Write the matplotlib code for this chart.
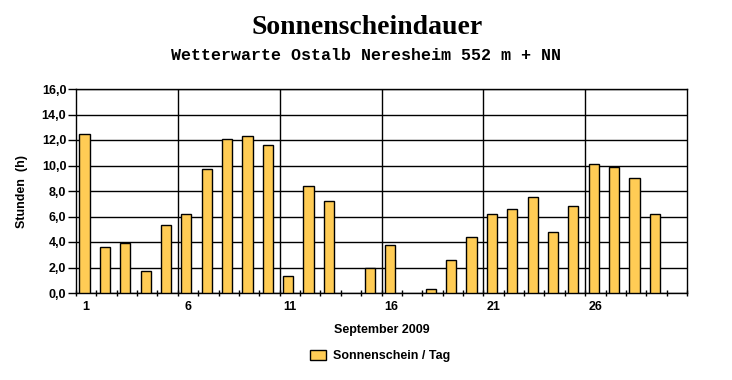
import numpy as np
import matplotlib
matplotlib.use("Agg")
import matplotlib.pyplot as plt
from matplotlib.patches import Patch

days = list(range(1, 31))
sunshine = [12.5, 3.6, 3.9, 1.7, 5.3, 6.2, 9.7, 12.1, 12.3, 11.6,
            1.3, 8.4, 7.2, np.nan, 2.0, 3.8, np.nan, 0.3, 2.6, 4.4,
            6.2, 6.6, 7.5, 4.8, 6.8, 10.1, 9.9, 9.0, 6.2, np.nan]
xtick_days = [1, 6, 11, 16, 21, 26]
yticks = [0, 2, 4, 6, 8, 10, 12, 14, 16]
title = "Sonnenscheindauer"
subtitle = "Wetterwarte Ostalb Neresheim 552 m + NN"
xlabel = "September 2009"
ylabel = "Stunden  (h)"
legend_label = "Sonnenschein / Tag"

sans = "Liberation Sans"
fig = plt.figure(figsize=(7.32, 3.80), dpi=100)
ax = fig.add_axes([76/732, 87/380, 611/732, 204/380])

x = np.array(days, dtype=float) - 0.08
ax.bar(x, sunshine, width=0.5, color="#FFCC55", edgecolor="black", linewidth=1.0, zorder=3)

ax.set_xlim(0.5, 30.5)
ax.set_ylim(0, 16)
ax.set_yticks(yticks)
ax.set_yticklabels([f"{v:.1f}".replace(".", ",") for v in yticks],
                   fontfamily=sans, fontweight="bold", fontsize=9)
ax.set_xticks(xtick_days)
ax.set_xticklabels([str(d) for d in xtick_days], fontfamily=sans, fontweight="bold", fontsize=9)
ax.set_xticks(np.arange(0.5, 31, 1), minor=True)
ax.tick_params(axis="x", which="major", length=0, pad=6)
ax.tick_params(axis="x", which="minor", length=4, direction="inout", width=1, color="black")
ax.tick_params(axis="y", which="major", length=6, direction="out", width=1, pad=1)

ax.grid(axis="y", color="black", linewidth=1.0, zorder=1)
for b in [5.5, 10.5, 15.5, 20.5, 25.5]:
    ax.axvline(b, color="black", linewidth=1.0, zorder=1)
for s in ax.spines.values():
    s.set_color("black")
    s.set_linewidth(1.0)

ax.set_xlabel(xlabel, fontfamily=sans, fontweight="bold", fontsize=9, labelpad=8)
ax.set_ylabel(ylabel, fontfamily=sans, fontweight="bold", fontsize=9, labelpad=10)

fig.text(367/732, 1 - 28/380, title, ha="center", va="center",
         fontfamily="Liberation Serif", fontweight="bold", fontsize=20)
fig.text(366/732, 1 - 55/380, subtitle, ha="center", va="center",
         fontfamily="Liberation Mono", fontweight="bold", fontsize=12)

handle = Patch(facecolor="#FFCC55", edgecolor="black", linewidth=1.0)
fig.legend([handle], [legend_label], loc="center", bbox_to_anchor=(380/732, 1 - 356/380),
           frameon=False, prop={"family": sans, "weight": "bold", "size": 9},
           handlelength=1.3, handleheight=0.9, handletextpad=0.6)

fig.savefig("out.png", dpi=100)
